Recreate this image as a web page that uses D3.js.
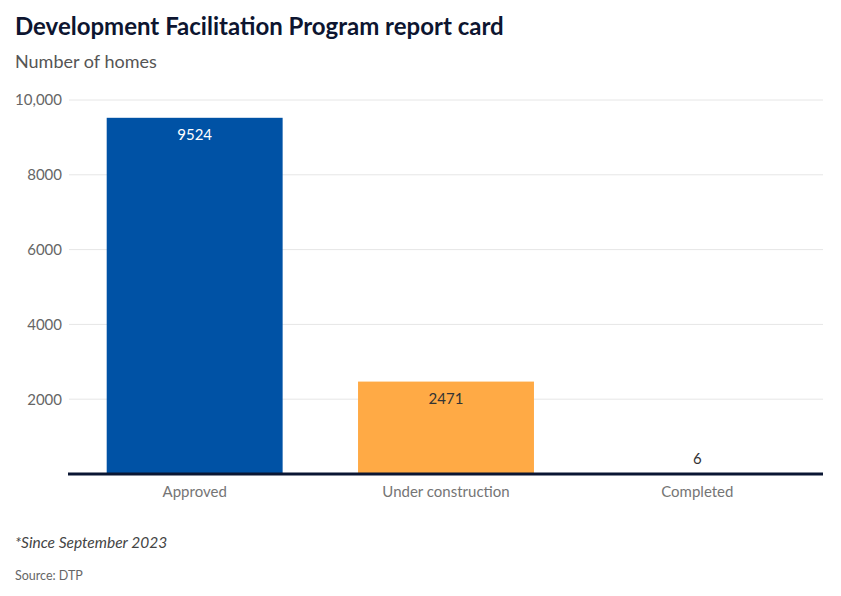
<!DOCTYPE html>
<html>
<head>
<meta charset="utf-8">
<script src="https://cdn.jsdelivr.net/npm/d3@7"></script>
<style>
  body { margin: 0; background: #fff; }
  text { font-family: Lato, "Noto Sans", sans-serif; }
</style>
</head>
<body>
<div id="chart"></div>
<script>
// data
const categories = ["Approved", "Under construction", "Completed"];
const homes = [9524, 2471, 6];
const barColors = ["#0052a5", "#ffaa45", "#ffaa45"];
const yTicks = [2000, 4000, 6000, 8000, 10000];

const svgWidth = 841;
const svgHeight = 596;

const margin = {top: 100, right: 18, bottom: 122, left: 69},
  width = svgWidth - margin.left - margin.right,
  height = svgHeight - margin.top - margin.bottom;

const svg = d3.select("#chart")
  .append("svg")
  .attr("width", svgWidth)
  .attr("height", svgHeight);

// titles
svg.append("text")
  .attr("x", 15)
  .attr("y", 35)
  .style("font-size", "24px")
  .style("font-weight", "bold")
  .style("fill", "#0d1530")
  .text("Development Facilitation Program report card");

svg.append("text")
  .attr("x", 15)
  .attr("y", 68)
  .style("font-size", "18px")
  .style("fill", "#555")
  .text("Number of homes");

const g = svg.append("g")
  .attr("transform", "translate(" + margin.left + "," + margin.top + ")");

const x = d3.scaleBand()
  .domain(categories)
  .range([0, width])
  .paddingInner(0.3)
  .paddingOuter(0.15);

const y = d3.scaleLinear()
  .domain([0, 10000])
  .range([height, 0]);

// gridlines
g.selectAll(".grid")
  .data(yTicks).enter()
  .append("line")
  .attr("class", "grid")
  .attr("x1", 0)
  .attr("x2", width)
  .attr("y1", d => y(d))
  .attr("y2", d => y(d))
  .style("stroke", "#e6e6e6")
  .style("stroke-width", 1);

// y axis labels
const yAxis = g.append("g")
  .call(d3.axisLeft(y).tickValues(yTicks).tickSize(0).tickPadding(7)
    .tickFormat(d => d === 10000 ? d3.format(",")(d) : d));
yAxis.select(".domain").remove();
yAxis.selectAll("text")
  .style("font-size", "15px")
  .style("fill", "#666")
  .style("font-family", "Lato, 'Noto Sans', sans-serif");

// bars
g.selectAll(".bar")
  .data(homes).enter()
  .append("rect")
  .attr("class", "bar")
  .attr("x", (d, i) => x(categories[i]))
  .attr("width", x.bandwidth())
  .attr("y", d => y(d))
  .attr("height", d => height - y(d))
  .style("fill", (d, i) => barColors[i]);

// value labels
g.selectAll(".value")
  .data(homes).enter()
  .append("text")
  .attr("class", "value")
  .attr("x", (d, i) => x(categories[i]) + x.bandwidth() / 2)
  .attr("y", d => (height - y(d)) > 30 ? y(d) + 22 : y(d) - 10)
  .attr("text-anchor", "middle")
  .style("font-size", "15px")
  .style("fill", (d, i) => i === 0 ? "#fff" : "#333")
  .text(d => d);

// baseline
g.append("line")
  .attr("x1", -1)
  .attr("x2", width)
  .attr("y1", y(0))
  .attr("y2", y(0))
  .style("stroke", "#0a1633")
  .style("stroke-width", 3);

// x axis labels
const xAxis = g.append("g")
  .attr("transform", "translate(0," + height + ")")
  .call(d3.axisBottom(x).tickSize(0).tickPadding(12));
xAxis.select(".domain").remove();
xAxis.selectAll("text")
  .style("font-size", "15px")
  .style("fill", "#757575")
  .style("font-family", "Lato, 'Noto Sans', sans-serif");

// footer
svg.append("text")
  .attr("x", 15)
  .attr("y", 548)
  .style("font-size", "15.5px")
  .style("font-style", "italic")
  .style("fill", "#444")
  .text("*Since September 2023");

svg.append("text")
  .attr("x", 15)
  .attr("y", 580)
  .style("font-size", "12.5px")
  .style("fill", "#666")
  .text("Source: DTP");
</script>
</body>
</html>
